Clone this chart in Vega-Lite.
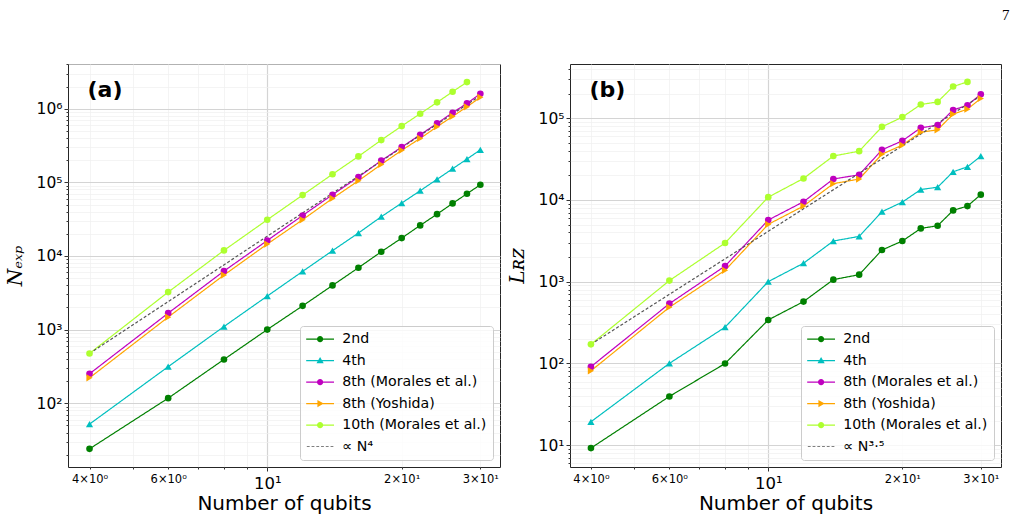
{
  "$schema": "https://vega.github.io/schema/vega-lite/v6.json",
  "background": "white",
  "padding": {"top": 7, "left": 4, "right": 8, "bottom": 5},
  "title": {"text": "7", "anchor": "end", "font": "Liberation Serif", "fontSize": 15, "fontWeight": "normal", "color": "#000", "offset": 34, "dx": 8},
  "config": {
    "view": {"stroke": "#262626", "strokeWidth": 1},
    "font": "DejaVu Sans"
  },
  "spacing": 5,
  "resolve": {"scale": {"color": "independent", "shape": "independent", "strokeDash": "independent"}},
  "datasets": {
    "a": [
      {"s": "2nd", "n": 4, "v": 24}, {"s": "2nd", "n": 6, "v": 117}, {"s": "2nd", "n": 8, "v": 393}, {"s": "2nd", "n": 10, "v": 1000}, {"s": "2nd", "n": 12, "v": 2100}, {"s": "2nd", "n": 14, "v": 3980}, {"s": "2nd", "n": 16, "v": 6920}, {"s": "2nd", "n": 18, "v": 11400}, {"s": "2nd", "n": 20, "v": 17500}, {"s": "2nd", "n": 22, "v": 26000}, {"s": "2nd", "n": 24, "v": 37000}, {"s": "2nd", "n": 26, "v": 51700}, {"s": "2nd", "n": 28, "v": 70000}, {"s": "2nd", "n": 30, "v": 92700},
      {"s": "4th", "n": 4, "v": 52}, {"s": "4th", "n": 6, "v": 313}, {"s": "4th", "n": 8, "v": 1100}, {"s": "4th", "n": 10, "v": 2850}, {"s": "4th", "n": 12, "v": 6170}, {"s": "4th", "n": 14, "v": 11800}, {"s": "4th", "n": 16, "v": 20500}, {"s": "4th", "n": 18, "v": 34100}, {"s": "4th", "n": 20, "v": 52300}, {"s": "4th", "n": 22, "v": 76900}, {"s": "4th", "n": 24, "v": 110000}, {"s": "4th", "n": 26, "v": 153000}, {"s": "4th", "n": 28, "v": 207000}, {"s": "4th", "n": 30, "v": 277000},
      {"s": "8th (Morales et al.)", "n": 4, "v": 251}, {"s": "8th (Morales et al.)", "n": 6, "v": 1670}, {"s": "8th (Morales et al.)", "n": 8, "v": 6230}, {"s": "8th (Morales et al.)", "n": 10, "v": 16200}, {"s": "8th (Morales et al.)", "n": 12, "v": 35500}, {"s": "8th (Morales et al.)", "n": 14, "v": 67900}, {"s": "8th (Morales et al.)", "n": 16, "v": 118000}, {"s": "8th (Morales et al.)", "n": 18, "v": 197000}, {"s": "8th (Morales et al.)", "n": 20, "v": 301000}, {"s": "8th (Morales et al.)", "n": 22, "v": 443000}, {"s": "8th (Morales et al.)", "n": 24, "v": 632000}, {"s": "8th (Morales et al.)", "n": 26, "v": 883000}, {"s": "8th (Morales et al.)", "n": 28, "v": 1180000}, {"s": "8th (Morales et al.)", "n": 30, "v": 1600000},
      {"s": "8th (Yoshida)", "n": 4, "v": 221}, {"s": "8th (Yoshida)", "n": 6, "v": 1476}, {"s": "8th (Yoshida)", "n": 8, "v": 5500}, {"s": "8th (Yoshida)", "n": 10, "v": 14500}, {"s": "8th (Yoshida)", "n": 12, "v": 31000}, {"s": "8th (Yoshida)", "n": 14, "v": 60500}, {"s": "8th (Yoshida)", "n": 16, "v": 105000}, {"s": "8th (Yoshida)", "n": 18, "v": 175000}, {"s": "8th (Yoshida)", "n": 20, "v": 272000}, {"s": "8th (Yoshida)", "n": 22, "v": 395000}, {"s": "8th (Yoshida)", "n": 24, "v": 569000}, {"s": "8th (Yoshida)", "n": 26, "v": 787000}, {"s": "8th (Yoshida)", "n": 28, "v": 1060000}, {"s": "8th (Yoshida)", "n": 30, "v": 1430000},
      {"s": "10th (Morales et al.)", "n": 4, "v": 474}, {"s": "10th (Morales et al.)", "n": 6, "v": 3230}, {"s": "10th (Morales et al.)", "n": 8, "v": 11900}, {"s": "10th (Morales et al.)", "n": 10, "v": 31000}, {"s": "10th (Morales et al.)", "n": 12, "v": 67100}, {"s": "10th (Morales et al.)", "n": 14, "v": 129000}, {"s": "10th (Morales et al.)", "n": 16, "v": 225000}, {"s": "10th (Morales et al.)", "n": 18, "v": 375000}, {"s": "10th (Morales et al.)", "n": 20, "v": 581000}, {"s": "10th (Morales et al.)", "n": 22, "v": 855000}, {"s": "10th (Morales et al.)", "n": 24, "v": 1220000}, {"s": "10th (Morales et al.)", "n": 26, "v": 1700000}, {"s": "10th (Morales et al.)", "n": 28, "v": 2300000},
      {"s": "∝ N⁴", "n": 4, "v": 474}, {"s": "∝ N⁴", "n": 30, "v": 1500000}
    ],
    "b": [
      {"s": "2nd", "n": 4, "v": 9.2}, {"s": "2nd", "n": 6, "v": 39.4}, {"s": "2nd", "n": 8, "v": 99.6}, {"s": "2nd", "n": 10, "v": 340}, {"s": "2nd", "n": 12, "v": 570}, {"s": "2nd", "n": 14, "v": 1058}, {"s": "2nd", "n": 16, "v": 1218}, {"s": "2nd", "n": 18, "v": 2440}, {"s": "2nd", "n": 20, "v": 3140}, {"s": "2nd", "n": 22, "v": 4480}, {"s": "2nd", "n": 24, "v": 4830}, {"s": "2nd", "n": 26, "v": 7440}, {"s": "2nd", "n": 28, "v": 8410}, {"s": "2nd", "n": 30, "v": 11600},
      {"s": "4th", "n": 4, "v": 19.3}, {"s": "4th", "n": 6, "v": 100}, {"s": "4th", "n": 8, "v": 277}, {"s": "4th", "n": 10, "v": 1000}, {"s": "4th", "n": 12, "v": 1680}, {"s": "4th", "n": 14, "v": 3140}, {"s": "4th", "n": 16, "v": 3580}, {"s": "4th", "n": 18, "v": 7170}, {"s": "4th", "n": 20, "v": 9410}, {"s": "4th", "n": 22, "v": 13400}, {"s": "4th", "n": 24, "v": 14300}, {"s": "4th", "n": 26, "v": 22100}, {"s": "4th", "n": 28, "v": 25400}, {"s": "4th", "n": 30, "v": 34300},
      {"s": "8th (Morales et al.)", "n": 4, "v": 91}, {"s": "8th (Morales et al.)", "n": 6, "v": 538}, {"s": "8th (Morales et al.)", "n": 8, "v": 1550}, {"s": "8th (Morales et al.)", "n": 10, "v": 5670}, {"s": "8th (Morales et al.)", "n": 12, "v": 9500}, {"s": "8th (Morales et al.)", "n": 14, "v": 18000}, {"s": "8th (Morales et al.)", "n": 16, "v": 20300}, {"s": "8th (Morales et al.)", "n": 18, "v": 41000}, {"s": "8th (Morales et al.)", "n": 20, "v": 52800}, {"s": "8th (Morales et al.)", "n": 22, "v": 76200}, {"s": "8th (Morales et al.)", "n": 24, "v": 82100}, {"s": "8th (Morales et al.)", "n": 26, "v": 126000}, {"s": "8th (Morales et al.)", "n": 28, "v": 144000}, {"s": "8th (Morales et al.)", "n": 30, "v": 196000},
      {"s": "8th (Yoshida)", "n": 4, "v": 81}, {"s": "8th (Yoshida)", "n": 6, "v": 486}, {"s": "8th (Yoshida)", "n": 8, "v": 1375}, {"s": "8th (Yoshida)", "n": 10, "v": 5020}, {"s": "8th (Yoshida)", "n": 12, "v": 8410}, {"s": "8th (Yoshida)", "n": 14, "v": 15800}, {"s": "8th (Yoshida)", "n": 16, "v": 18000}, {"s": "8th (Yoshida)", "n": 18, "v": 36300}, {"s": "8th (Yoshida)", "n": 20, "v": 46800}, {"s": "8th (Yoshida)", "n": 22, "v": 67400}, {"s": "8th (Yoshida)", "n": 24, "v": 72000}, {"s": "8th (Yoshida)", "n": 26, "v": 112000}, {"s": "8th (Yoshida)", "n": 28, "v": 129000}, {"s": "8th (Yoshida)", "n": 30, "v": 174000},
      {"s": "10th (Morales et al.)", "n": 4, "v": 171}, {"s": "10th (Morales et al.)", "n": 6, "v": 1030}, {"s": "10th (Morales et al.)", "n": 8, "v": 2970}, {"s": "10th (Morales et al.)", "n": 10, "v": 10800}, {"s": "10th (Morales et al.)", "n": 12, "v": 18300}, {"s": "10th (Morales et al.)", "n": 14, "v": 34400}, {"s": "10th (Morales et al.)", "n": 16, "v": 39500}, {"s": "10th (Morales et al.)", "n": 18, "v": 78400}, {"s": "10th (Morales et al.)", "n": 20, "v": 103000}, {"s": "10th (Morales et al.)", "n": 22, "v": 147000}, {"s": "10th (Morales et al.)", "n": 24, "v": 158000}, {"s": "10th (Morales et al.)", "n": 26, "v": 244000}, {"s": "10th (Morales et al.)", "n": 28, "v": 278000},
      {"s": "∝ N³·⁵", "n": 4, "v": 171}, {"s": "∝ N³·⁵", "n": 30, "v": 188000}
    ]
  },
  "hconcat": [
    {
      "width": 432,
      "height": 403,
      "data": {"name": "a"},
      "layer": [
        {
          "transform": [{"filter": "false"}],
          "mark": {"type": "point", "filled": true, "size": 40, "opacity": 1},
          "encoding": {
            "x": {"field": "n", "type": "quantitative",
              "scale": {"type": "log", "domain": [3.58, 33.2], "nice": false, "zero": false},
              "axis": {
                "values": [4, 5, 6, 7, 8, 9, 10, 20, 30],
                "labelExpr": "datum.value == 10 ? '10¹' : datum.value == 4 ? '4×10⁰' : datum.value == 6 ? '6×10⁰' : datum.value == 20 ? '2×10¹' : datum.value == 30 ? '3×10¹' : ''",
                "labelFontSize": {"condition": {"test": "datum.value == 10", "value": 16.5}, "value": 11.5},
                "tickSize": {"condition": {"test": "datum.value == 10", "value": 4}, "value": 2},
                "gridColor": {"condition": {"test": "datum.value == 10", "value": "#d4d4d4"}, "value": "#efefef"},
                "gridWidth": {"condition": {"test": "datum.value == 10", "value": 1.2}, "value": 0.7},
                "domain": false, "tickColor": "#000", "tickWidth": 0.8,
                "labelColor": "#000", "labelFont": "DejaVu Sans", "labelPadding": 4, "labelOverlap": false, "labelFlush": false,
                "title": "Number of qubits", "titleFontSize": 20, "titleFont": "DejaVu Sans", "titleFontWeight": "normal", "titleColor": "#000", "titlePadding": 2
              }},
            "y": {"field": "v", "type": "quantitative",
              "scale": {"type": "log", "domain": [13.6, 4050000], "nice": false, "zero": false},
              "axis": {
                "values": [20, 30, 40, 50, 60, 70, 80, 90, 100, 200, 300, 400, 500, 600, 700, 800, 900, 1000, 2000, 3000, 4000, 5000, 6000, 7000, 8000, 9000, 10000, 20000, 30000, 40000, 50000, 60000, 70000, 80000, 90000, 100000, 200000, 300000, 400000, 500000, 600000, 700000, 800000, 900000, 1000000, 2000000, 3000000, 4000000],
                "labelExpr": "abs(log(datum.value)/LN10 - round(log(datum.value)/LN10)) < 0.001 ? '10' + ['⁰','¹','²','³','⁴','⁵','⁶','⁷'][round(log(datum.value)/LN10)] : ''",
                "labelFontSize": 15.5,
                "tickSize": {"condition": {"test": "abs(log(datum.value)/LN10 - round(log(datum.value)/LN10)) < 0.001", "value": 4}, "value": 2},
                "gridColor": {"condition": {"test": "abs(log(datum.value)/LN10 - round(log(datum.value)/LN10)) < 0.001", "value": "#d4d4d4"}, "value": "#efefef"},
                "gridWidth": {"condition": {"test": "abs(log(datum.value)/LN10 - round(log(datum.value)/LN10)) < 0.001", "value": 1.2}, "value": 0.7},
                "domain": false, "tickColor": "#000", "tickWidth": 0.8,
                "labelColor": "#000", "labelFont": "DejaVu Sans", "labelPadding": 2, "labelOverlap": false, "labelFlush": false,
                "title": "Nₑₓₚ", "titleFontSize": 20, "titleFont": "DejaVu Serif", "titleFontStyle": "italic", "titleFontWeight": "normal", "titleColor": "#000", "titlePadding": 11
              }},
            "color": {"field": "s", "type": "nominal",
              "scale": {"domain": ["2nd", "4th", "8th (Morales et al.)", "8th (Yoshida)", "10th (Morales et al.)", "∝ N⁴"], "range": ["#008000", "#00bfbf", "#bf00bf", "#ffa500", "#adff2f", "#555555"]},
              "legend": {"orient": "bottom-right", "offset": 7, "title": null, "fillColor": "rgba(255,255,255,0.8)", "strokeColor": "#cccccc", "cornerRadius": 3, "padding": 6, "labelFont": "DejaVu Sans", "labelFontSize": 14.2, "labelColor": "#000", "labelLimit": 400, "symbolSize": 40, "symbolStrokeWidth": 0, "symbolOffset": 7, "labelOffset": 15, "rowPadding": 6.5, "symbolOpacity": 1}},
            "shape": {"field": "s", "type": "nominal",
              "scale": {"domain": ["2nd", "4th", "8th (Morales et al.)", "8th (Yoshida)", "10th (Morales et al.)", "∝ N⁴"],
                "range": [
                  "M-4.4,-0.22H4.4V0.22H-4.4Z M1,0A1,1 0 1,1 -1,0A1,1 0 1,1 1,0Z",
                  "M-4.4,-0.22H4.4V0.22H-4.4Z M0,-1.15L1.15,0.85L-1.15,0.85Z",
                  "M-4.4,-0.22H4.4V0.22H-4.4Z M1,0A1,1 0 1,1 -1,0A1,1 0 1,1 1,0Z",
                  "M-4.4,-0.22H4.4V0.22H-4.4Z M1.15,0L-0.85,1.15L-0.85,-1.15Z",
                  "M-4.4,-0.22H4.4V0.22H-4.4Z M1,0A1,1 0 1,1 -1,0A1,1 0 1,1 1,0Z",
                  "M-4.2,-0.13H-3.3V0.13H-4.2Z M-2.7,-0.13H-1.8V0.13H-2.7Z M-1.2,-0.13H-0.3V0.13H-1.2Z M0.3,-0.13H1.2V0.13H0.3Z M1.8,-0.13H2.7V0.13H1.8Z M3.3,-0.13H4.2V0.13H3.3Z"
                ]},
              "legend": {"orient": "bottom-right", "offset": 7, "title": null, "fillColor": "rgba(255,255,255,0.8)", "strokeColor": "#cccccc", "cornerRadius": 3, "padding": 6, "labelFont": "DejaVu Sans", "labelFontSize": 14.2, "labelColor": "#000", "labelLimit": 400, "symbolSize": 40, "symbolStrokeWidth": 0, "symbolOffset": 7, "labelOffset": 15, "rowPadding": 6.5, "symbolOpacity": 1}}
          }
        },
        {
          "mark": {"type": "line", "strokeWidth": 1.2, "clip": true},
          "encoding": {
            "x": {"field": "n", "type": "quantitative"}, "y": {"field": "v", "type": "quantitative"},
            "color": {"field": "s", "type": "nominal", "legend": null},
            "strokeDash": {"field": "s", "type": "nominal", "legend": null,
              "scale": {"domain": ["2nd", "4th", "8th (Morales et al.)", "8th (Yoshida)", "10th (Morales et al.)", "∝ N⁴"], "range": [[1, 0], [1, 0], [1, 0], [1, 0], [1, 0], [3, 2]]}}
          }
        },
        {
          "transform": [{"filter": {"field": "s", "oneOf": ["2nd", "8th (Morales et al.)", "10th (Morales et al.)"]}}],
          "mark": {"type": "point", "shape": "circle", "filled": true, "size": 44, "opacity": 1, "strokeWidth": 0},
          "encoding": {"x": {"field": "n", "type": "quantitative"}, "y": {"field": "v", "type": "quantitative"}, "color": {"field": "s", "type": "nominal", "legend": null}}
        },
        {
          "transform": [{"filter": {"field": "s", "equal": "4th"}}],
          "mark": {"type": "point", "shape": "triangle-up", "filled": true, "size": 52, "opacity": 1, "strokeWidth": 0},
          "encoding": {"x": {"field": "n", "type": "quantitative"}, "y": {"field": "v", "type": "quantitative"}, "color": {"field": "s", "type": "nominal", "legend": null}}
        },
        {
          "transform": [{"filter": {"field": "s", "equal": "8th (Yoshida)"}}],
          "mark": {"type": "point", "shape": "triangle-right", "filled": true, "size": 52, "opacity": 1, "strokeWidth": 0},
          "encoding": {"x": {"field": "n", "type": "quantitative"}, "y": {"field": "v", "type": "quantitative"}, "color": {"field": "s", "type": "nominal", "legend": null}}
        },
        {
          "data": {"values": [{}]},
          "mark": {"type": "text", "text": "(a)", "font": "DejaVu Sans", "fontSize": 22, "fontWeight": "bold", "align": "left", "baseline": "middle", "color": "#000"},
          "encoding": {"x": {"datum": 3.96}, "y": {"datum": 1790000}}
        }
      ]
    },
    {
      "width": 431,
      "height": 403,
      "data": {"name": "b"},
      "layer": [
        {
          "transform": [{"filter": "false"}],
          "mark": {"type": "point", "filled": true, "size": 40, "opacity": 1},
          "encoding": {
            "x": {"field": "n", "type": "quantitative",
              "scale": {"type": "log", "domain": [3.59, 33.3], "nice": false, "zero": false},
              "axis": {
                "values": [4, 5, 6, 7, 8, 9, 10, 20, 30],
                "labelExpr": "datum.value == 10 ? '10¹' : datum.value == 4 ? '4×10⁰' : datum.value == 6 ? '6×10⁰' : datum.value == 20 ? '2×10¹' : datum.value == 30 ? '3×10¹' : ''",
                "labelFontSize": {"condition": {"test": "datum.value == 10", "value": 16.5}, "value": 11.5},
                "tickSize": {"condition": {"test": "datum.value == 10", "value": 4}, "value": 2},
                "gridColor": {"condition": {"test": "datum.value == 10", "value": "#d4d4d4"}, "value": "#efefef"},
                "gridWidth": {"condition": {"test": "datum.value == 10", "value": 1.2}, "value": 0.7},
                "domain": false, "tickColor": "#000", "tickWidth": 0.8,
                "labelColor": "#000", "labelFont": "DejaVu Sans", "labelPadding": 4, "labelOverlap": false, "labelFlush": false,
                "title": "Number of qubits", "titleFontSize": 20, "titleFont": "DejaVu Sans", "titleFontWeight": "normal", "titleColor": "#000", "titlePadding": 2
              }},
            "y": {"field": "v", "type": "quantitative",
              "scale": {"type": "log", "domain": [5.4, 460000], "nice": false, "zero": false},
              "axis": {
                "values": [6, 7, 8, 9, 10, 20, 30, 40, 50, 60, 70, 80, 90, 100, 200, 300, 400, 500, 600, 700, 800, 900, 1000, 2000, 3000, 4000, 5000, 6000, 7000, 8000, 9000, 10000, 20000, 30000, 40000, 50000, 60000, 70000, 80000, 90000, 100000, 200000, 300000, 400000],
                "labelExpr": "abs(log(datum.value)/LN10 - round(log(datum.value)/LN10)) < 0.001 ? '10' + ['⁰','¹','²','³','⁴','⁵','⁶','⁷'][round(log(datum.value)/LN10)] : ''",
                "labelFontSize": 15.5,
                "tickSize": {"condition": {"test": "abs(log(datum.value)/LN10 - round(log(datum.value)/LN10)) < 0.001", "value": 4}, "value": 2},
                "gridColor": {"condition": {"test": "abs(log(datum.value)/LN10 - round(log(datum.value)/LN10)) < 0.001", "value": "#d4d4d4"}, "value": "#efefef"},
                "gridWidth": {"condition": {"test": "abs(log(datum.value)/LN10 - round(log(datum.value)/LN10)) < 0.001", "value": 1.2}, "value": 0.7},
                "domain": false, "tickColor": "#000", "tickWidth": 0.8,
                "labelColor": "#000", "labelFont": "DejaVu Sans", "labelPadding": 2, "labelOverlap": false, "labelFlush": false,
                "title": "Lʀᴢ", "titleFontSize": 20, "titleFont": "DejaVu Serif", "titleFontStyle": "italic", "titleFontWeight": "normal", "titleColor": "#000", "titlePadding": 11
              }},
            "color": {"field": "s", "type": "nominal",
              "scale": {"domain": ["2nd", "4th", "8th (Morales et al.)", "8th (Yoshida)", "10th (Morales et al.)", "∝ N³·⁵"], "range": ["#008000", "#00bfbf", "#bf00bf", "#ffa500", "#adff2f", "#555555"]},
              "legend": {"orient": "bottom-right", "offset": 7, "title": null, "fillColor": "rgba(255,255,255,0.8)", "strokeColor": "#cccccc", "cornerRadius": 3, "padding": 6, "labelFont": "DejaVu Sans", "labelFontSize": 14.2, "labelColor": "#000", "labelLimit": 400, "symbolSize": 40, "symbolStrokeWidth": 0, "symbolOffset": 7, "labelOffset": 15, "rowPadding": 6.5, "symbolOpacity": 1}},
            "shape": {"field": "s", "type": "nominal",
              "scale": {"domain": ["2nd", "4th", "8th (Morales et al.)", "8th (Yoshida)", "10th (Morales et al.)", "∝ N³·⁵"],
                "range": [
                  "M-4.4,-0.22H4.4V0.22H-4.4Z M1,0A1,1 0 1,1 -1,0A1,1 0 1,1 1,0Z",
                  "M-4.4,-0.22H4.4V0.22H-4.4Z M0,-1.15L1.15,0.85L-1.15,0.85Z",
                  "M-4.4,-0.22H4.4V0.22H-4.4Z M1,0A1,1 0 1,1 -1,0A1,1 0 1,1 1,0Z",
                  "M-4.4,-0.22H4.4V0.22H-4.4Z M1.15,0L-0.85,1.15L-0.85,-1.15Z",
                  "M-4.4,-0.22H4.4V0.22H-4.4Z M1,0A1,1 0 1,1 -1,0A1,1 0 1,1 1,0Z",
                  "M-4.2,-0.13H-3.3V0.13H-4.2Z M-2.7,-0.13H-1.8V0.13H-2.7Z M-1.2,-0.13H-0.3V0.13H-1.2Z M0.3,-0.13H1.2V0.13H0.3Z M1.8,-0.13H2.7V0.13H1.8Z M3.3,-0.13H4.2V0.13H3.3Z"
                ]},
              "legend": {"orient": "bottom-right", "offset": 7, "title": null, "fillColor": "rgba(255,255,255,0.8)", "strokeColor": "#cccccc", "cornerRadius": 3, "padding": 6, "labelFont": "DejaVu Sans", "labelFontSize": 14.2, "labelColor": "#000", "labelLimit": 400, "symbolSize": 40, "symbolStrokeWidth": 0, "symbolOffset": 7, "labelOffset": 15, "rowPadding": 6.5, "symbolOpacity": 1}}
          }
        },
        {
          "mark": {"type": "line", "strokeWidth": 1.2, "clip": true},
          "encoding": {
            "x": {"field": "n", "type": "quantitative"}, "y": {"field": "v", "type": "quantitative"},
            "color": {"field": "s", "type": "nominal", "legend": null},
            "strokeDash": {"field": "s", "type": "nominal", "legend": null,
              "scale": {"domain": ["2nd", "4th", "8th (Morales et al.)", "8th (Yoshida)", "10th (Morales et al.)", "∝ N³·⁵"], "range": [[1, 0], [1, 0], [1, 0], [1, 0], [1, 0], [3, 2]]}}
          }
        },
        {
          "transform": [{"filter": {"field": "s", "oneOf": ["2nd", "8th (Morales et al.)", "10th (Morales et al.)"]}}],
          "mark": {"type": "point", "shape": "circle", "filled": true, "size": 44, "opacity": 1, "strokeWidth": 0},
          "encoding": {"x": {"field": "n", "type": "quantitative"}, "y": {"field": "v", "type": "quantitative"}, "color": {"field": "s", "type": "nominal", "legend": null}}
        },
        {
          "transform": [{"filter": {"field": "s", "equal": "4th"}}],
          "mark": {"type": "point", "shape": "triangle-up", "filled": true, "size": 52, "opacity": 1, "strokeWidth": 0},
          "encoding": {"x": {"field": "n", "type": "quantitative"}, "y": {"field": "v", "type": "quantitative"}, "color": {"field": "s", "type": "nominal", "legend": null}}
        },
        {
          "transform": [{"filter": {"field": "s", "equal": "8th (Yoshida)"}}],
          "mark": {"type": "point", "shape": "triangle-right", "filled": true, "size": 52, "opacity": 1, "strokeWidth": 0},
          "encoding": {"x": {"field": "n", "type": "quantitative"}, "y": {"field": "v", "type": "quantitative"}, "color": {"field": "s", "type": "nominal", "legend": null}}
        },
        {
          "data": {"values": [{}]},
          "mark": {"type": "text", "text": "(b)", "font": "DejaVu Sans", "fontSize": 22, "fontWeight": "bold", "align": "left", "baseline": "middle", "color": "#000"},
          "encoding": {"x": {"datum": 3.97}, "y": {"datum": 222000}}
        }
      ]
    }
  ]
}
